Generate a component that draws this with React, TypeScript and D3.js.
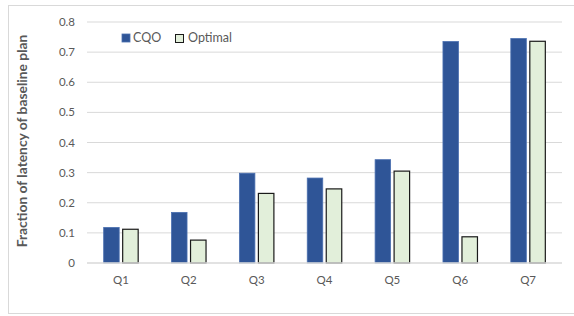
import React from "react";
import * as d3 from "d3";

const categories = ["Q1", "Q2", "Q3", "Q4", "Q5", "Q6", "Q7"];
const seriesNames = ["CQO", "Optimal"];
const cqoValues = [0.118, 0.168, 0.298, 0.282, 0.343, 0.735, 0.745];
const optimalValues = [0.112, 0.076, 0.231, 0.246, 0.305, 0.087, 0.736];
const yTicks = [0, 0.1, 0.2, 0.3, 0.4, 0.5, 0.6, 0.7, 0.8];
const yTitle = "Fraction of latency of baseline plan";

const W = 574;
const H = 316;
const FONT = "Lato, 'Open Sans', sans-serif";

export default function App() {
  const plotLeft = 87;
  const plotRight = 562;
  const y = d3.scaleLinear().domain([0, 0.8]).range([263, 22]);
  const x0 = d3.scaleBand().domain(categories).range([plotLeft, plotRight]).paddingInner(0).paddingOuter(0);
  const step = x0.bandwidth();
  const barW = 15.5;
  const gap = 3.5;
  const fmt = (v: number) => (v === 0 ? "0" : d3.format(".1f")(v));
  const series = [
    { name: seriesNames[0], values: cqoValues, fill: "#2F5597", stroke: "#4A6FB0", sw: 0.8 },
    { name: seriesNames[1], values: optimalValues, fill: "#E2EFDA", stroke: "#1a1a1a", sw: 1.2 },
  ];
  return (
    <svg width={W} height={H} style={{ position: "absolute", left: 0, top: 0, fontFamily: FONT }}>
      <rect x={0} y={0} width={W} height={H} fill="#fff" />
      <rect x={8.5} y={5.5} width={572} height={308} fill="#fff" stroke="#d9d9d9" strokeWidth={1} />
      {yTicks.map((t) => (
        <g key={t}>
          {t !== 0 && (
            <line x1={plotLeft} x2={plotRight} y1={y(t)} y2={y(t)} stroke="#d9d9d9" strokeWidth={1} />
          )}
          <text x={75} y={y(t)} dy="0.35em" textAnchor="end" fontSize={11.5} fill="#595959">
            {fmt(t)}
          </text>
        </g>
      ))}
      {categories.map((c, i) => {
        const cx = (x0(c) as number) + step / 2;
        const groupW = barW * 2 + gap;
        const start = cx - groupW / 2;
        return (
          <g key={c}>
            {series.map((s, j) => {
              const bx = start + j * (barW + gap);
              const by = y(s.values[i]);
              return (
                <rect
                  key={s.name}
                  x={bx}
                  y={by}
                  width={barW}
                  height={y(0) - by}
                  fill={s.fill}
                  stroke={s.stroke}
                  strokeWidth={s.sw}
                />
              );
            })}
            <text x={cx} y={284} textAnchor="middle" fontSize={11.5} fill="#595959">
              {c}
            </text>
          </g>
        );
      })}
      <line x1={plotLeft} x2={plotRight} y1={y(0)} y2={y(0)} stroke="#d9d9d9" strokeWidth={1.5} />
      <text
        transform={`translate(26.5,141) rotate(-90)`}
        textAnchor="middle"
        fontSize={13.8}
        fontWeight="bold"
        fill="#595959"
      >
        {yTitle}
      </text>
      <g>
        <rect x={122} y={34} width={8} height={8} fill={series[0].fill} stroke={series[0].stroke} strokeWidth={0.8} />
        <text x={133} y={38} dy="0.35em" fontSize={12.5} fill="#595959">
          {series[0].name}
        </text>
        <rect x={175.5} y={34.5} width={8} height={8} fill={series[1].fill} stroke="#1a1a1a" strokeWidth={1} />
        <text x={188} y={38} dy="0.35em" fontSize={12.5} fill="#595959">
          {series[1].name}
        </text>
      </g>
    </svg>
  );
}
